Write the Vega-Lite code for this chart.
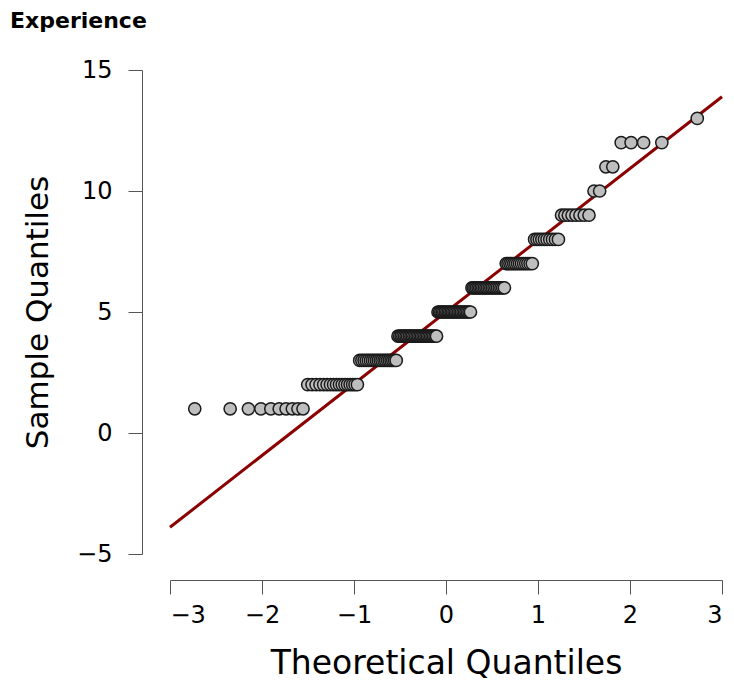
{
  "$schema": "https://vega.github.io/schema/vega-lite/v6.json",
  "width": 552,
  "height": 484,
  "autosize": {"type": "none"},
  "padding": {"left": 170, "top": 70, "right": 12, "bottom": 130},
  "background": "white",
  "config": {"view": {"stroke": null}, "font": "DejaVu Sans"},
  "title": {"text": "Experience", "anchor": "start", "frame": "group", "dx": -160, "fontSize": 22, "fontWeight": "bold", "font": "DejaVu Sans", "color": "black", "offset": 25},
  "datasets": {
    "pts": [
      {"q": -2.731, "s": 1}, {"q": -2.346, "s": 1}, {"q": -2.148, "s": 1}, {"q": -2.012, "s": 1}, {"q": -1.904, "s": 1}, {"q": -1.813, "s": 1}, {"q": -1.738, "s": 1}, {"q": -1.670, "s": 1}, {"q": -1.609, "s": 1}, {"q": -1.554, "s": 1},
      {"q": -1.503, "s": 2}, {"q": -1.456, "s": 2}, {"q": -1.412, "s": 2}, {"q": -1.370, "s": 2}, {"q": -1.330, "s": 2}, {"q": -1.292, "s": 2}, {"q": -1.256, "s": 2}, {"q": -1.222, "s": 2}, {"q": -1.190, "s": 2}, {"q": -1.158, "s": 2}, {"q": -1.128, "s": 2}, {"q": -1.098, "s": 2}, {"q": -1.070, "s": 2}, {"q": -1.042, "s": 2}, {"q": -1.015, "s": 2}, {"q": -0.989, "s": 2}, {"q": -0.963, "s": 2},
      {"q": -0.938, "s": 3}, {"q": -0.914, "s": 3}, {"q": -0.890, "s": 3}, {"q": -0.867, "s": 3}, {"q": -0.844, "s": 3}, {"q": -0.821, "s": 3}, {"q": -0.799, "s": 3}, {"q": -0.778, "s": 3}, {"q": -0.756, "s": 3}, {"q": -0.736, "s": 3}, {"q": -0.715, "s": 3}, {"q": -0.695, "s": 3}, {"q": -0.674, "s": 3}, {"q": -0.655, "s": 3}, {"q": -0.635, "s": 3}, {"q": -0.616, "s": 3}, {"q": -0.597, "s": 3}, {"q": -0.578, "s": 3}, {"q": -0.559, "s": 3}, {"q": -0.541, "s": 3},
      {"q": -0.522, "s": 4}, {"q": -0.504, "s": 4}, {"q": -0.487, "s": 4}, {"q": -0.469, "s": 4}, {"q": -0.451, "s": 4}, {"q": -0.434, "s": 4}, {"q": -0.417, "s": 4}, {"q": -0.399, "s": 4}, {"q": -0.382, "s": 4}, {"q": -0.366, "s": 4}, {"q": -0.349, "s": 4}, {"q": -0.332, "s": 4}, {"q": -0.315, "s": 4}, {"q": -0.299, "s": 4}, {"q": -0.282, "s": 4}, {"q": -0.266, "s": 4}, {"q": -0.250, "s": 4}, {"q": -0.233, "s": 4}, {"q": -0.217, "s": 4}, {"q": -0.201, "s": 4}, {"q": -0.185, "s": 4}, {"q": -0.168, "s": 4}, {"q": -0.152, "s": 4}, {"q": -0.136, "s": 4}, {"q": -0.119, "s": 4}, {"q": -0.103, "s": 4},
      {"q": -0.087, "s": 5}, {"q": -0.071, "s": 5}, {"q": -0.056, "s": 5}, {"q": -0.040, "s": 5}, {"q": -0.024, "s": 5}, {"q": -0.008, "s": 5}, {"q": 0.008, "s": 5}, {"q": 0.024, "s": 5}, {"q": 0.040, "s": 5}, {"q": 0.056, "s": 5}, {"q": 0.071, "s": 5}, {"q": 0.087, "s": 5}, {"q": 0.103, "s": 5}, {"q": 0.119, "s": 5}, {"q": 0.136, "s": 5}, {"q": 0.152, "s": 5}, {"q": 0.168, "s": 5}, {"q": 0.185, "s": 5}, {"q": 0.201, "s": 5}, {"q": 0.217, "s": 5}, {"q": 0.233, "s": 5}, {"q": 0.250, "s": 5}, {"q": 0.266, "s": 5},
      {"q": 0.282, "s": 6}, {"q": 0.299, "s": 6}, {"q": 0.315, "s": 6}, {"q": 0.332, "s": 6}, {"q": 0.349, "s": 6}, {"q": 0.366, "s": 6}, {"q": 0.382, "s": 6}, {"q": 0.399, "s": 6}, {"q": 0.417, "s": 6}, {"q": 0.434, "s": 6}, {"q": 0.451, "s": 6}, {"q": 0.469, "s": 6}, {"q": 0.487, "s": 6}, {"q": 0.504, "s": 6}, {"q": 0.522, "s": 6}, {"q": 0.541, "s": 6}, {"q": 0.559, "s": 6}, {"q": 0.578, "s": 6}, {"q": 0.597, "s": 6}, {"q": 0.616, "s": 6}, {"q": 0.635, "s": 6},
      {"q": 0.655, "s": 7}, {"q": 0.674, "s": 7}, {"q": 0.695, "s": 7}, {"q": 0.715, "s": 7}, {"q": 0.736, "s": 7}, {"q": 0.756, "s": 7}, {"q": 0.778, "s": 7}, {"q": 0.799, "s": 7}, {"q": 0.821, "s": 7}, {"q": 0.844, "s": 7}, {"q": 0.867, "s": 7}, {"q": 0.890, "s": 7}, {"q": 0.914, "s": 7}, {"q": 0.938, "s": 7},
      {"q": 0.963, "s": 8}, {"q": 0.989, "s": 8}, {"q": 1.015, "s": 8}, {"q": 1.042, "s": 8}, {"q": 1.070, "s": 8}, {"q": 1.098, "s": 8}, {"q": 1.128, "s": 8}, {"q": 1.158, "s": 8}, {"q": 1.190, "s": 8}, {"q": 1.222, "s": 8},
      {"q": 1.256, "s": 9}, {"q": 1.292, "s": 9}, {"q": 1.330, "s": 9}, {"q": 1.370, "s": 9}, {"q": 1.412, "s": 9}, {"q": 1.456, "s": 9}, {"q": 1.503, "s": 9}, {"q": 1.554, "s": 9},
      {"q": 1.609, "s": 10}, {"q": 1.670, "s": 10},
      {"q": 1.738, "s": 11}, {"q": 1.813, "s": 11},
      {"q": 1.904, "s": 12}, {"q": 2.012, "s": 12}, {"q": 2.148, "s": 12}, {"q": 2.346, "s": 12},
      {"q": 2.731, "s": 13}
    ],
    "line": [{"q": -3, "s": -3.896}, {"q": 3, "s": 13.896}]
  },
  "layer": [
    {
      "data": {"name": "line"},
      "mark": {"type": "line", "color": "#8b0000", "strokeWidth": 3, "clip": false},
      "encoding": {
        "x": {"field": "q", "type": "quantitative", "scale": {"domain": [-3, 3], "nice": false, "zero": false},
          "axis": {"title": "Theoretical Quantiles", "format": "d", "values": [-3, -2, -1, 0, 1, 2, 3], "grid": false, "offset": 26, "tickSize": 14, "domainColor": "#555", "tickColor": "#555", "domainWidth": 1, "tickWidth": 1, "labelFontSize": 24, "labelColor": "black", "labelPadding": 9, "titleFontSize": 33, "titleFontWeight": "normal", "titleColor": "black", "titlePadding": 20, "labelFont": "DejaVu Sans", "titleFont": "DejaVu Sans"}},
        "y": {"field": "s", "type": "quantitative", "scale": {"domain": [-5, 15], "nice": false, "zero": false},
          "axis": {"title": "Sample Quantiles", "format": "d", "values": [-5, 0, 5, 10, 15], "grid": false, "offset": 28, "tickSize": 14, "domainColor": "#555", "tickColor": "#555", "domainWidth": 1, "tickWidth": 1, "labelFontSize": 24, "labelColor": "black", "labelPadding": 16, "titleFontSize": 31, "titleFontWeight": "normal", "titleColor": "black", "titlePadding": 22, "labelFont": "DejaVu Sans", "titleFont": "DejaVu Sans"}}
      }
    },
    {
      "data": {"name": "pts"},
      "mark": {"type": "point", "filled": true, "fill": "#bebebe", "stroke": "#1a1a1a", "strokeWidth": 1.5, "size": 150, "opacity": 1, "clip": false},
      "encoding": {
        "x": {"field": "q", "type": "quantitative"},
        "y": {"field": "s", "type": "quantitative"}
      }
    }
  ]
}
